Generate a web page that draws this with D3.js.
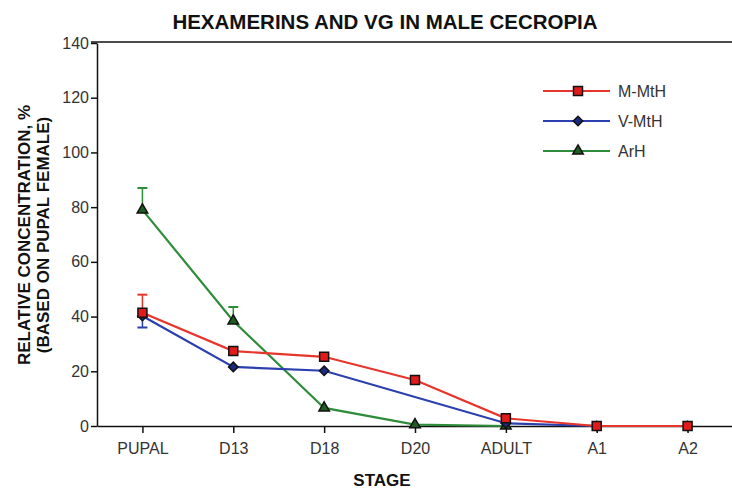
<!DOCTYPE html>
<html>
<head>
<meta charset="utf-8">
<script src="https://cdn.jsdelivr.net/npm/d3@7"></script>
<style>
  body { margin: 0; background: #fff; }
  svg { font-family: "Liberation Sans", Arial, sans-serif; }
</style>
</head>
<body>
<svg id="chart" width="732" height="490"></svg>
<script>
(function() {
  var stages = ["PUPAL", "D13", "D18", "D20", "ADULT", "A1", "A2"];
  var yTicks = [0, 20, 40, 60, 80, 100, 120, 140];

  // null = no point drawn at that stage
  var mMtH = [41.4, 27.4, 25.3, 16.8, 2.8, 0, 0];
  var vMtH = [40.2, 21.6, 20.2, null, 1, 0, 0];
  var arH = [79, 38.4, 6.6, 0.5, 0, null, null];

  // error bars: [stage, value, end]
  var mMtHErr = [["PUPAL", 41.4, 48]];
  var vMtHErr = [["PUPAL", 40.2, 36]];
  var arHErr = [["PUPAL", 79, 87], ["D13", 38.4, 43.5]];

  var series = [
    { label: "M-MtH", values: mMtH, errs: mMtHErr, line: "#e8352c", fill: "#e11b1b", shape: "square" },
    { label: "V-MtH", values: vMtH, errs: vMtHErr, line: "#2b3fae", fill: "#1b2b80", shape: "diamond" },
    { label: "ArH", values: arH, errs: arHErr, line: "#2f8c3b", fill: "#1e5e22", shape: "triangle" }
  ];

  var svg = d3.select("#chart");
  var x0 = 97, x1 = 733, y0 = 426, y1 = 43;

  var x = d3.scalePoint().domain(stages).range([x0, x1]).padding(0.5);
  var y = d3.scaleLinear().domain([0, 140]).range([y0, y1]);

  svg.append("text")
    .attr("x", 385).attr("y", 29)
    .attr("text-anchor", "middle")
    .attr("font-size", 20.5).attr("font-weight", "bold").attr("fill", "#111")
    .text("HEXAMERINS AND VG IN MALE CECROPIA");

  // top frame line
  svg.append("line")
    .attr("x1", 91).attr("x2", 732).attr("y1", y1 - 1).attr("y2", y1 - 1)
    .attr("stroke", "#111").attr("stroke-width", 1.5);

  var yAxis = svg.append("g")
    .attr("transform", "translate(" + x0 + ",0)")
    .call(d3.axisLeft(y).tickValues(yTicks).tickSize(6).tickSizeOuter(0).tickPadding(2));
  yAxis.select(".domain").attr("stroke", "#111").attr("stroke-width", 1.5);
  yAxis.selectAll(".tick line").attr("stroke", "#111").attr("stroke-width", 1.5);
  yAxis.selectAll("text").attr("font-size", 16).attr("fill", "#333")
    .attr("font-family", "Liberation Sans, Arial, sans-serif");

  var xAxis = svg.append("g")
    .attr("transform", "translate(0," + y0 + ")")
    .call(d3.axisBottom(x).tickSize(7).tickSizeOuter(0).tickPadding(10));
  xAxis.select(".domain").attr("stroke", "#111").attr("stroke-width", 1.5);
  xAxis.selectAll(".tick line").attr("stroke", "#111").attr("stroke-width", 1.5);
  xAxis.selectAll("text").attr("font-size", 16).attr("fill", "#333")
    .attr("font-family", "Liberation Sans, Arial, sans-serif");

  svg.append("text")
    .attr("x", 382).attr("y", 486)
    .attr("text-anchor", "middle")
    .attr("font-size", 17).attr("font-weight", "bold").attr("fill", "#111")
    .text("STAGE");

  var yTitle = svg.append("text")
    .attr("transform", "translate(30,235) rotate(-90)")
    .attr("text-anchor", "middle")
    .attr("font-size", 17).attr("font-weight", "bold").attr("fill", "#111");
  yTitle.append("tspan").attr("x", 0).attr("dy", 0).text("RELATIVE CONCENTRATION, %");
  yTitle.append("tspan").attr("x", 0).attr("dy", 19).text("(BASED ON PUPAL FEMALE)");

  var symbols = { square: d3.symbolSquare, diamond: d3.symbolSquare, triangle: d3.symbolTriangle };
  var sizes = { square: 81, diamond: 45, triangle: 48 };

  var line = d3.line()
    .x(function(d) { return x(d.stage); })
    .y(function(d) { return y(d.value); });

  function drawMarker(g, s, cx, cy) {
    g.append("path")
      .attr("d", d3.symbol().type(symbols[s.shape]).size(sizes[s.shape])())
      .attr("transform", "translate(" + cx + "," + cy + ")" + (s.shape === "diamond" ? " rotate(45)" : ""))
      .attr("fill", s.fill)
      .attr("stroke", "#111")
      .attr("stroke-width", 1.5);
  }

  // draw back-to-front so red sits on top like the original
  series.slice().reverse().forEach(function(s) {
    var pts = stages.map(function(st, i) { return { stage: st, value: s.values[i] }; })
      .filter(function(d) { return d.value !== null; });
    var g = svg.append("g");

    s.errs.forEach(function(e) {
      var ex = x(e[0]);
      g.append("line")
        .attr("x1", ex).attr("x2", ex).attr("y1", y(e[1])).attr("y2", y(e[2]))
        .attr("stroke", s.line).attr("stroke-width", 1.5);
      g.append("line")
        .attr("x1", ex - 5).attr("x2", ex + 5).attr("y1", y(e[2])).attr("y2", y(e[2]))
        .attr("stroke", s.line).attr("stroke-width", 2);
    });

    g.append("path")
      .datum(pts)
      .attr("d", line)
      .attr("fill", "none")
      .attr("stroke", s.line)
      .attr("stroke-width", 2.2);

    pts.forEach(function(d) { drawMarker(g, s, x(d.stage), y(d.value)); });
  });

  // legend
  var legend = svg.append("g");
  series.forEach(function(s, i) {
    var ly = 91 + i * 30;
    legend.append("line")
      .attr("x1", 543).attr("x2", 610).attr("y1", ly).attr("y2", ly)
      .attr("stroke", s.line).attr("stroke-width", 2.2);
    drawMarker(legend, s, 578, ly);
    legend.append("text")
      .attr("x", 618).attr("y", ly + 6)
      .attr("font-size", 16).attr("fill", "#333")
      .text(s.label);
  });
})();
</script>
</body>
</html>
